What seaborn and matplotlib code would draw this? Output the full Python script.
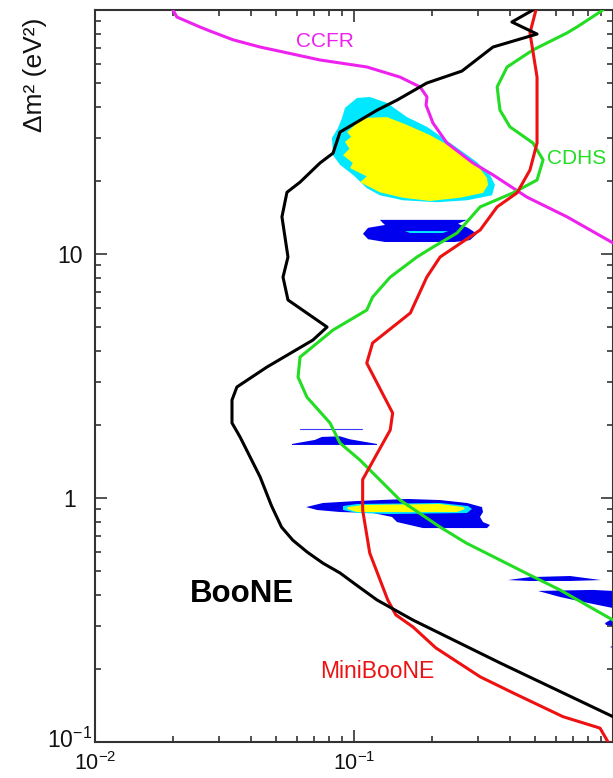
import numpy as np
import pandas as pd
import matplotlib
matplotlib.use("Agg")
import matplotlib.pyplot as plt
import matplotlib.ticker as mticker
import matplotlib.transforms as mtransforms
import seaborn as sns

# ---------------- data (sin^2 2theta , dm^2 in eV^2) ----------------
boone_x = [0.491, 0.407, 0.509, 0.344, 0.261, 0.191, 0.147, 0.123, 0.0883, 0.0830,
           0.0739, 0.0619, 0.0551, 0.0527, 0.0556, 0.0532, 0.0556, 0.0787, 0.0694,
           0.0461, 0.0353, 0.0338, 0.0338, 0.0363, 0.0434, 0.0480, 0.0525, 0.0580,
           0.0660, 0.0760, 0.0883, 0.103, 0.1227, 0.169, 0.366, 1.0]
boone_y = [100, 89.3, 79.7, 70.5, 56.2, 50.2, 42.8, 38.9, 31.6, 25.9,
           23.6, 19.7, 17.9, 14.2, 9.72, 8.04, 6.48, 5.02, 4.44,
           3.44, 2.85, 2.52, 2.03, 1.78, 1.22, 0.93, 0.76, 0.672,
           0.600, 0.540, 0.493, 0.437, 0.382, 0.316, 0.211, 0.127]

mini_x = [0.504, 0.478, 0.509, 0.509, 0.478, 0.426, 0.357, 0.307, 0.215, 0.191,
          0.165, 0.118, 0.112, 0.141, 0.138, 0.108, 0.108, 0.115, 0.135, 0.145,
          0.169, 0.207, 0.307, 0.411, 0.641, 0.891, 0.957]
mini_y = [100, 80.5, 53.1, 28.5, 22.1, 17.8, 15.6, 12.54, 9.72, 8.04,
          5.73, 4.32, 3.57, 2.23, 1.90, 1.19, 0.893, 0.595, 0.382, 0.332,
          0.296, 0.243, 0.185, 0.159, 0.127, 0.114, 0.100]

cdhs_x = [0.915, 0.726, 0.664, 0.491, 0.390, 0.357, 0.366, 0.400, 0.491, 0.537,
          0.509, 0.411, 0.307, 0.250, 0.202, 0.175, 0.138, 0.118, 0.112, 0.0830,
          0.0619, 0.0608, 0.0658, 0.0808, 0.0883, 0.1055, 0.1505, 0.215, 0.271,
          0.478, 0.624, 1.0]
cdhs_y = [100, 85.2, 80.5, 68.6, 58.4, 48.4, 38.9, 33.2, 28.5, 24.3,
          20.1, 17.8, 15.6, 12.19, 10.68, 9.72, 8.04, 6.66, 5.89, 4.88,
          3.78, 3.13, 2.59, 2.03, 1.68, 1.43, 0.981, 0.760, 0.654,
          0.483, 0.420, 0.316]

ccfr_x = [0.0200, 0.0207, 0.0254, 0.0278, 0.0341, 0.0434, 0.0532, 0.0739, 0.1122,
          0.1505, 0.1798, 0.1914, 0.1897, 0.2018, 0.2286, 0.2881, 0.344, 0.4655,
          0.6644, 1.0]
ccfr_y = [100, 93.6, 85.2, 82.0, 75.5, 70.5, 67.3, 62.4, 58.4,
          53.1, 48.4, 44.0, 40.8, 34.4, 28.5, 23.6, 21.1, 17.1,
          14.2, 11.1]

# allowed regions
big_outer_x = [0.0923, 0.1027, 0.1153, 0.1341, 0.1602, 0.1914, 0.2412, 0.2985, 0.3350,
               0.3502, 0.3410, 0.2731, 0.2092, 0.1546, 0.1260, 0.1122, 0.0991, 0.0883,
               0.0830, 0.0822, 0.0867, 0.0899]
big_outer_y = [39.7, 43.6, 44.0, 41.6, 36.4, 33.2, 28.0, 23.8, 21.1,
               19.2, 17.4, 16.6, 16.3, 16.6, 17.4, 18.6, 21.1, 23.2,
               25.4, 29.9, 32.8, 36.1]
big_inner_x = [0.0940, 0.1083, 0.1341, 0.1602, 0.1966, 0.2412, 0.2985, 0.3262, 0.3291,
               0.3148, 0.2566, 0.1966, 0.1546, 0.1260, 0.1055, 0.1120, 0.0965, 0.0990,
               0.0907, 0.0960, 0.0923, 0.0975]
big_inner_y = [31.6, 36.1, 36.4, 33.8, 30.7, 27.2, 23.2, 20.5, 19.2,
               17.8, 17.0, 16.5, 17.0, 17.9, 19.7, 20.8, 22.5, 23.6,
               25.4, 27.0, 28.8, 30.2]

band12_x = [0.1260, 0.2731, 0.2521, 0.2755, 0.2985, 0.2805, 0.2455, 0.1317, 0.1133,
            0.1083, 0.1133, 0.1317, 0.1283]
band12_y = [13.8, 13.8, 13.3, 12.8, 12.1, 11.4, 11.2, 11.2, 11.5,
            12.1, 12.8, 13.15, 13.5]
band12_in_x = [0.1574, 0.2307, 0.2206, 0.1645]
band12_in_y = [12.42, 12.42, 12.19, 12.19]

band17_x = [0.0576, 0.0707, 0.0752, 0.0883, 0.0965, 0.1227, 0.1227, 0.0576]
band17_y = [1.665, 1.73, 1.78, 1.79, 1.74, 1.665, 1.65, 1.65]
line19_x = [0.0619, 0.1074]
line19_y = [1.92, 1.92]

band09_x = [0.0653, 0.0759, 0.1027, 0.1602, 0.2148, 0.2731, 0.3120, 0.3148, 0.3065,
            0.3148, 0.3350, 0.3262, 0.1847, 0.1466, 0.1402, 0.1184, 0.0883, 0.0720]
band09_y = [0.918, 0.954, 0.972, 0.991, 0.981, 0.954, 0.918, 0.876, 0.836,
            0.797, 0.775, 0.753, 0.753, 0.797, 0.836, 0.868, 0.876, 0.893]
band09_c_x = [0.0907, 0.1027, 0.2148, 0.2755, 0.2855, 0.2731, 0.1377, 0.1027, 0.0907]
band09_c_y = [0.927, 0.945, 0.954, 0.927, 0.902, 0.868, 0.860, 0.868, 0.893]
band09_y_x = [0.0948, 0.1083, 0.2148, 0.2635, 0.2683, 0.2499, 0.1377, 0.1027, 0.0940]
band09_y_y = [0.918, 0.936, 0.945, 0.918, 0.902, 0.876, 0.876, 0.876, 0.902]

band046_x = [0.3931, 0.4781, 0.6823, 0.8988, 0.6823, 0.4781]
band046_y = [0.461, 0.474, 0.479, 0.461, 0.457, 0.457]
band041_x = [0.5133, 0.8373, 1.0, 1.2, 1.2, 1.0, 0.766, 0.6243]
band041_y = [0.416, 0.420, 0.416, 0.416, 0.34, 0.354, 0.375, 0.393]
band031_x = [0.9313, 0.9737, 1.1, 1.1, 0.9397]
band031_y = [0.307, 0.316, 0.318, 0.294, 0.302]
band025_x = [0.9737, 1.1, 1.1]
band025_y = [0.245, 0.258, 0.236]

xtick_vals = [0.01, 0.1, 1.0]
xtick_labels = [r"$10^{-2}$", r"$10^{-1}$", ""]
ytick_vals = [0.1, 1.0, 10.0, 100.0]
ytick_labels = [r"$10^{-1}$", "1", "10", ""]

labels_text = ["CCFR", "CDHS", "MiniBooNE", "BooNE"]
labels_x = [0.0773, 0.726, 0.1227, 0.0370]
labels_y = [74.6, 24.7, 0.195, 0.404]

# ---------------- style ----------------
sns.set_theme(style="ticks")
plt.rcParams["font.family"] = ["Liberation Sans", "DejaVu Sans"]
plt.rcParams["mathtext.fontset"] = "custom"
plt.rcParams["mathtext.rm"] = "Liberation Sans"
plt.rcParams["mathtext.it"] = "Liberation Sans:italic"
plt.rcParams["mathtext.bf"] = "Liberation Sans:bold"

BLUE = "#0000ee"
CYAN = "#00e8ff"
YELLOW = "#ffff00"

fig = plt.figure(figsize=(6.13, 7.78), dpi=100)
ax = fig.add_axes([95 / 613, 36 / 778, 518 / 613, 732 / 778])
ax.set_xscale("log")
ax.set_yscale("log")
ax.set_xlim(0.01, 1.0)
ax.set_ylim(0.1, 100)

# regions
ax.fill(big_outer_x, big_outer_y, color=CYAN, lw=0, zorder=1)
ax.fill(big_inner_x, big_inner_y, color=YELLOW, lw=0, zorder=1.1)
ax.fill(band12_x, band12_y, color=BLUE, lw=0, zorder=1)
ax.fill(band12_in_x, band12_in_y, color=CYAN, lw=0, zorder=1.1)
ax.fill(band17_x, band17_y, color=BLUE, lw=0, zorder=1)
ax.plot(line19_x, line19_y, color="#3b3bff", lw=0.8, zorder=1)
ax.fill(band09_x, band09_y, color=BLUE, lw=0, zorder=1)
ax.fill(band09_c_x, band09_c_y, color=CYAN, lw=0, zorder=1.1)
ax.fill(band09_y_x, band09_y_y, color=YELLOW, lw=0, zorder=1.2)
for bx, by in [(band046_x, band046_y), (band041_x, band041_y),
               (band031_x, band031_y), (band025_x, band025_y)]:
    ax.fill(bx, by, color=BLUE, lw=0, zorder=1)

# exclusion curves
curves = [(ccfr_x, ccfr_y, "#ee22ee"), (cdhs_x, cdhs_y, "#22dd22"),
          (mini_x, mini_y, "#ee1111"), (boone_x, boone_y, "#000000")]
for cx, cy, col in curves:
    sns.lineplot(x=cx, y=cy, sort=False, estimator=None, color=col, lw=2.2,
                 ax=ax, zorder=3)

# labels
ax.text(labels_x[0], labels_y[0], labels_text[0], color="#ee22ee", fontsize=15,
        ha="center", va="center")
ax.text(labels_x[1], labels_y[1], labels_text[1], color="#22dd22", fontsize=15,
        ha="center", va="center")
ax.text(labels_x[2], labels_y[2], labels_text[2], color="#ee1111", fontsize=16.5,
        ha="center", va="center")
ax.text(labels_x[3], labels_y[3], labels_text[3], color="#000000", fontsize=22.5,
        fontweight="bold", ha="center", va="center")

# axes
ax.xaxis.set_major_locator(mticker.FixedLocator(xtick_vals))
ax.xaxis.set_major_formatter(mticker.FixedFormatter(xtick_labels))
ax.yaxis.set_major_locator(mticker.FixedLocator(ytick_vals))
ax.yaxis.set_major_formatter(mticker.FixedFormatter(ytick_labels))
ax.xaxis.set_minor_locator(mticker.LogLocator(base=10, subs=np.arange(2, 10)))
ax.yaxis.set_minor_locator(mticker.LogLocator(base=10, subs=np.arange(2, 10)))
ax.xaxis.set_minor_formatter(mticker.NullFormatter())
ax.yaxis.set_minor_formatter(mticker.NullFormatter())

ax.tick_params(which="both", direction="in", top=True, right=True,
               color="#333333", width=1.2, labelsize=16.5, labelcolor="#111111")
ax.tick_params(which="major", length=8.6)
ax.tick_params(which="minor", length=4.3)
ax.tick_params(axis="x", which="major", pad=7.5, labelsize=15.5)
ax.tick_params(axis="y", which="major", pad=18)
for sp in ax.spines.values():
    sp.set_color("#333333")
    sp.set_linewidth(1.5)

ax.set_ylabel("\u0394m\u00b2 (eV\u00b2)", fontsize=19, color="#111111")
ax.yaxis.set_label_coords(-0.093, 0.912)
ax.set_xlabel("")

# centre the y tick labels; lift the lowest one slightly clear of the x labels
ylabs = ax.get_yticklabels()
for lab in ylabs:
    lab.set_horizontalalignment("center")
lift = mtransforms.ScaledTranslation(0, 4 / 100, fig.dpi_scale_trans)
ax.yaxis.get_major_ticks()[0].label1.set_transform(
    ax.yaxis.get_major_ticks()[0].label1.get_transform() + lift)

fig.savefig("out.png", dpi=100)
